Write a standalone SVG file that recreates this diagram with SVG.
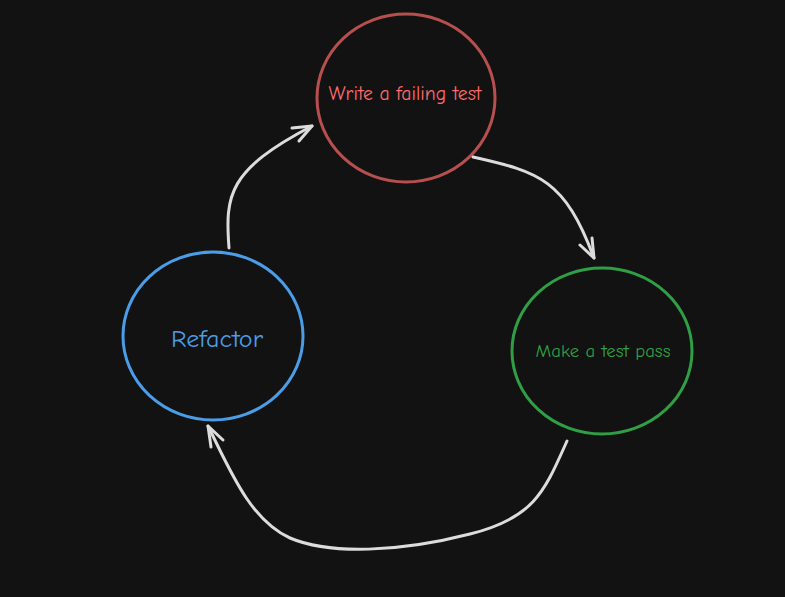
<svg xmlns="http://www.w3.org/2000/svg" width="785" height="597" viewBox="0 0 785 597">
<style>
.node{fill:none;stroke-width:3}
.lbl{font-family:"Comic Neue","Liberation Sans",sans-serif;text-anchor:middle;dominant-baseline:middle}
.conn{fill:none;stroke:#dcdcdc;stroke-width:3;stroke-linecap:round;stroke-linejoin:round}
</style>
<rect width="785" height="597" fill="#121212"/>
<g id="write">
<ellipse class="node" cx="406" cy="98" rx="89" ry="84" stroke="#b84f4f"/>
<text class="lbl" x="405" y="95" font-size="19.5" fill="#ff6b6b" textLength="153" lengthAdjust="spacingAndGlyphs">Write a failing test</text>
</g>
<g id="refactor">
<ellipse class="node" cx="213" cy="336" rx="90" ry="84" stroke="#4a9de6"/>
<text class="lbl" x="217" y="341" font-size="25" fill="#4a9de6" textLength="92" lengthAdjust="spacingAndGlyphs">Refactor</text>
</g>
<g id="pass">
<ellipse class="node" cx="602" cy="351" rx="90" ry="83" stroke="#2f9e44"/>
<text class="lbl" x="603" y="352" font-size="18.5" fill="#2f9e44" textLength="135" lengthAdjust="spacingAndGlyphs">Make a test pass</text>
</g>
<g id="connectors">
<path class="conn" d="M229 248 C 225 195, 228 170, 312 126"/>
<path class="conn" d="M292 128 L312 126 L299 141"/>
<path class="conn" d="M473 157 C 540 172, 565 180, 594 258"/>
<path class="conn" d="M580 245 L594 258 L592 238"/>
<path class="conn" d="M567 441 C 545 490, 535 518, 470 534 C 400 552, 330 555, 290 538 C 250 520, 230 470, 208 426"/>
<path class="conn" d="M211 447 L208 426 L223 440"/>
</g>
</svg>
